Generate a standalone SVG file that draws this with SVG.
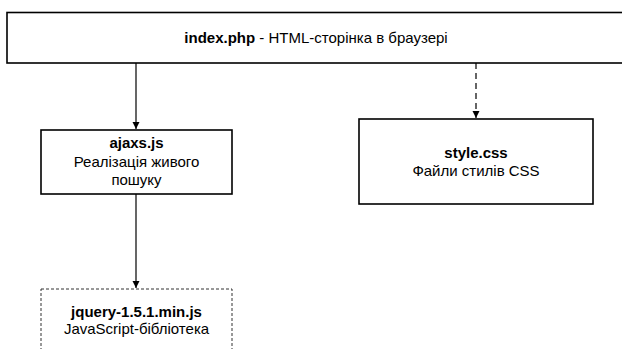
<svg xmlns="http://www.w3.org/2000/svg" width="622" height="349" viewBox="0 0 622 349">
  <style>
    .box { fill: #ffffff; stroke: #000000; stroke-width: 1.6; }
    .dotted { stroke-dasharray: 3 2; stroke-width: 1; stroke: #333333; }
    .t { font-family: "Liberation Sans", Arial, sans-serif; font-size: 15px; fill: #000000; text-anchor: middle; }
    .b { font-weight: bold; }
    .link { stroke: #000000; stroke-width: 1.2; fill: none; }
    .dash { stroke-dasharray: 6 4; }
  </style>
  <defs>
    <marker id="arrow" markerWidth="8" markerHeight="8" refX="7" refY="4" orient="auto" markerUnits="userSpaceOnUse">
      <path d="M0,0.5 L7,4 L0,7.5 Z" fill="#000000"/>
    </marker>
  </defs>
  <rect width="622" height="349" fill="#ffffff"/>

  <g id="connectors">
    <line class="link" x1="136" y1="63" x2="136" y2="129" marker-end="url(#arrow)"/>
    <line class="link dash" x1="476" y1="63" x2="476" y2="118" marker-end="url(#arrow)"/>
    <line class="link" x1="136" y1="194" x2="136" y2="288" marker-end="url(#arrow)"/>
  </g>

  <g id="index-php">
    <rect class="box" x="7" y="12.5" width="630" height="50.5"/>
    <text class="t" x="316" y="43"><tspan class="b">index.php</tspan> - HTML-сторінка в браузері</text>
  </g>

  <g id="ajaxs-js">
    <rect class="box" x="41" y="130" width="191" height="64"/>
    <text class="t b" x="136.5" y="148">ajaxs.js</text>
    <text class="t" x="136.5" y="167">Реалізація живого</text>
    <text class="t" x="136.5" y="185">пошуку</text>
  </g>

  <g id="style-css">
    <rect class="box" x="359" y="119" width="234" height="85"/>
    <text class="t b" x="476" y="158">style.css</text>
    <text class="t" x="476" y="176">Файли стилів CSS</text>
  </g>

  <g id="jquery">
    <rect class="box dotted" x="41" y="289" width="191" height="70"/>
    <text class="t b" x="136.5" y="317">jquery-1.5.1.min.js</text>
    <text class="t" x="136.5" y="334">JavaScript-бібліотека</text>
  </g>
</svg>
